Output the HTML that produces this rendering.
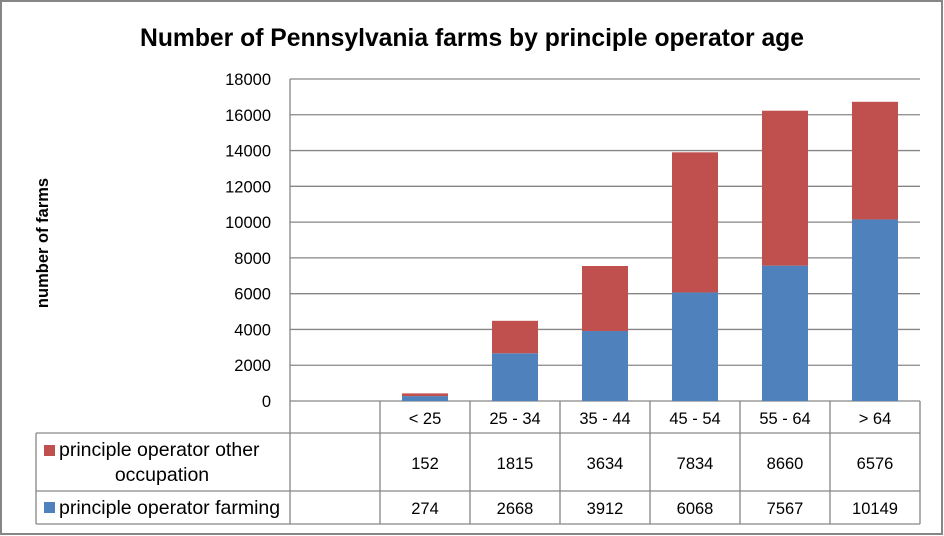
<!DOCTYPE html>
<html><head><meta charset="utf-8"><style>
body{margin:0;background:#fff;}
svg{display:block;font-family:"Liberation Sans",sans-serif;}
</style></head><body>
<svg id="chart" width="944" height="536">
<rect x="1" y="1" width="941" height="533" fill="#fff" stroke="#868686" stroke-width="2"/>
<text x="472" y="46" text-anchor="middle" font-size="24.7" font-weight="bold" fill="#000">Number of Pennsylvania farms by principle operator age</text>
<text transform="translate(48,243) rotate(-90)" text-anchor="middle" font-size="16.5" font-weight="bold">number of farms</text>
<g id="grid"></g><g id="bars"></g><g id="table"></g>
</svg>
<script>
const categories=["","< 25","25 - 34","35 - 44","45 - 54","55 - 64","> 64"];
const farming=[null,274,2668,3912,6068,7567,10149];
const other=[null,152,1815,3634,7834,8660,6576];
const yTicks=[0,2000,4000,6000,8000,10000,12000,14000,16000,18000];
const NS="http://www.w3.org/2000/svg";
const X0=290,COLW=90,Y0=401,Y1=79,YMAX=18000;
function y(v){return Y0-(v/YMAX)*(Y0-Y1);}
function xc(i){return X0+COLW*i+COLW/2;}
function mk(tag,attrs,parent,txt){const e=document.createElementNS(NS,tag);for(const k in attrs)e.setAttribute(k,attrs[k]);if(txt!==undefined)e.textContent=txt;parent.appendChild(e);return e;}
const grid=document.getElementById('grid'),bars=document.getElementById('bars'),table=document.getElementById('table');
const xEnd=X0+COLW*categories.length;
yTicks.forEach(t=>{
 const l=mk('line',{x1:X0,x2:xEnd,y1:y(t),y2:y(t),stroke:'#868686','stroke-width':1.3},grid);
 
 
 const tx=mk('text',{x:271,y:y(t)+6,'text-anchor':'end','font-size':16.5},grid,String(t));
 
 
});
mk('line',{x1:X0,x2:X0,y1:Y1,y2:524,stroke:'#868686','stroke-width':1.3},grid);
categories.forEach((c,i)=>{
 if(farming[i]==null)return;
 const bw=46,bx=xc(i)-bw/2;
 const b=mk('rect',{x:bx,y:y(farming[i]),width:bw,height:Y0-y(farming[i]),fill:'#4f81bd'},bars);
 
 
 const r=mk('rect',{x:bx,y:y(farming[i]+other[i]),width:bw,height:y(farming[i])-y(farming[i]+other[i]),fill:'#c0504d'},bars);
 
 
});
const R=[401,433,491,524];
const st={stroke:'#868686','stroke-width':1.3};
mk('line',Object.assign({x1:36,x2:xEnd,y1:R[1],y2:R[1]},st),table);
mk('line',Object.assign({x1:36,x2:xEnd,y1:R[2],y2:R[2]},st),table);
mk('line',Object.assign({x1:36,x2:xEnd,y1:R[3],y2:R[3]},st),table);
mk('line',Object.assign({x1:36,x2:36,y1:R[1],y2:R[3]},st),table);
for(let i=1;i<=categories.length;i++){
 mk('line',Object.assign({x1:X0+COLW*i,x2:X0+COLW*i,y1:Y0,y2:R[3]},st),table);
}
categories.forEach((c,i)=>{
 if(!c)return;
 const t1=mk('text',{x:xc(i),y:424,'text-anchor':'middle','font-size':16.5},table,c);
 
 
 const t2=mk('text',{x:xc(i),y:469,'text-anchor':'middle','font-size':16.5},table,String(other[i]));
 
 
 const t3=mk('text',{x:xc(i),y:514,'text-anchor':'middle','font-size':16.5},table,String(farming[i]));
 
 
});
const lg1=mk('rect',{x:44,y:445,width:11,height:11,fill:'#c0504d'},table);


const lt1=mk('text',{x:59,y:456,'font-size':19.5},table,'principle operator other');


mk('text',{x:162,y:481,'text-anchor':'middle','font-size':19.5},table,'occupation');
const lg2=mk('rect',{x:44,y:502,width:11,height:11,fill:'#4f81bd'},table);


const lt2=mk('text',{x:59,y:514,'font-size':19.5},table,'principle operator farming');


</script>
</body></html>
